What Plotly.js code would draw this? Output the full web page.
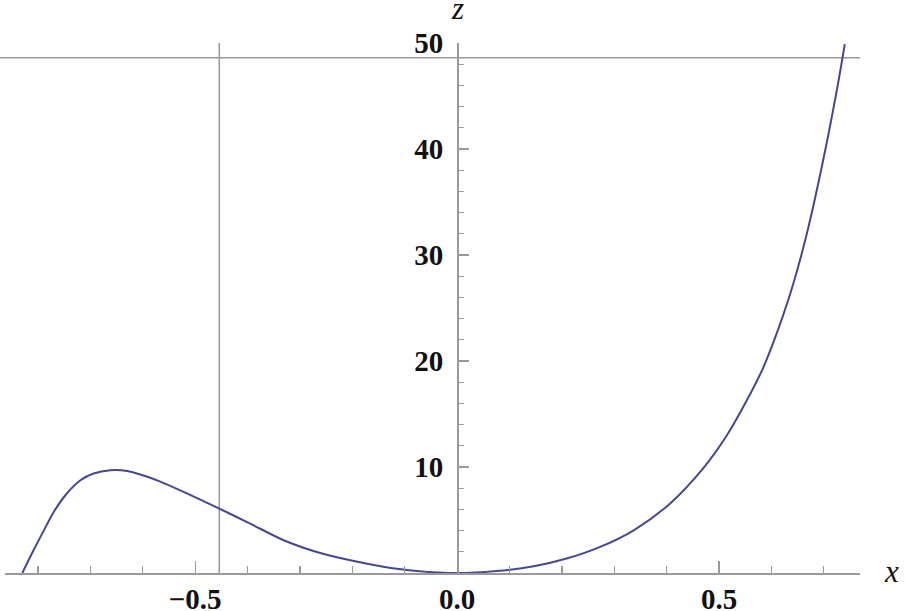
<!DOCTYPE html>
<html>
<head>
<meta charset="utf-8">
<script src="https://cdn.plot.ly/plotly-3.0.1.min.js"></script>
<style>
  html, body { margin: 0; padding: 0; background: #fff; }
  #chart { width: 905px; height: 611px; }
</style>
</head>
<body>
<div id="chart"></div>
<script>
// curve values
const xs = [-0.830, -0.809, -0.789, -0.770, -0.745, -0.719, -0.694, -0.662, -0.630,
            -0.600, -0.570, -0.522, -0.454, -0.395, -0.331, -0.268, -0.204, -0.141,
            -0.077, 0.000, 0.076, 0.146, 0.209, 0.273, 0.337, 0.404, 0.470,
            0.515, 0.553, 0.585, 0.610, 0.632, 0.651, 0.667, 0.683, 0.706, 0.725, 0.740];
const zs = [0.00, 2.10, 4.00, 5.76, 7.50, 8.75, 9.39, 9.70, 9.63,
            9.22, 8.69, 7.65, 6.08, 4.66, 3.09, 1.98, 1.20, 0.60,
            0.19, 0.00, 0.19, 0.63, 1.36, 2.46, 4.03, 6.45, 9.90,
            13.0, 16.3, 19.45, 22.6, 25.75, 28.9, 31.9, 35.3, 40.7, 45.6, 49.9];

// reference lines
const guideX = [-0.454];
const guideZ = [48.6];

const xTicks = [-0.5, 0.0, 0.5];
const xTickText = ['\u22120.5', '0.0', '0.5'];
const zTicks = [10, 20, 30, 40, 50];

const xRange = [-0.863, 0.769];
const zRange = [0, 50];

const axisGray = '#9a9a9a';
const labelFont = { family: 'Liberation Serif, Times New Roman, serif', size: 29, color: '#111', weight: 'bold' };
const titleFont = { family: 'Liberation Serif, Times New Roman, serif', size: 31, color: '#111', style: 'italic' };

const curve = {
    x: xs,
    y: zs,
    type: 'scatter',
    mode: 'lines',
    line: { color: '#45459a', width: 2, shape: 'spline', smoothing: 0.8 },
    cliponaxis: false,
    hoverinfo: 'skip'
};

const shapes = [];
guideX.forEach(v => shapes.push({
    type: 'line', layer: 'below', xref: 'x', yref: 'y',
    x0: v, x1: v, y0: zRange[0], y1: zRange[1],
    line: { color: axisGray, width: 1.5 }
}));
guideZ.forEach(v => shapes.push({
    type: 'line', layer: 'below', xref: 'paper', yref: 'y',
    x0: -0.006, x1: 1, y0: v, y1: v,
    line: { color: axisGray, width: 1.5 }
}));

const layout = {
    width: 905,
    height: 611,
    margin: { l: 5, r: 45, t: 43, b: 38 },
    paper_bgcolor: '#fff',
    plot_bgcolor: '#fff',
    showlegend: false,
    xaxis: {
        range: xRange,
        showgrid: false,
        zeroline: false,
        showline: true,
        linecolor: axisGray,
        linewidth: 1.5,
        ticks: 'inside',
        ticklen: 12,
        tickwidth: 1.2,
        tickcolor: axisGray,
        tickvals: xTicks,
        ticktext: xTickText,
        tickfont: labelFont,
        ticklabelstandoff: 0,
        minor: { dtick: 0.1, tick0: 0, ticks: 'inside', ticklen: 7, tickwidth: 1.2, tickcolor: axisGray, showgrid: false },
        fixedrange: true
    },
    yaxis: {
        range: zRange,
        anchor: 'free',
        position: (0 - xRange[0]) / (xRange[1] - xRange[0]),
        side: 'left',
        showgrid: false,
        zeroline: false,
        showline: true,
        linecolor: axisGray,
        linewidth: 1.5,
        ticks: 'inside',
        ticklen: 10,
        tickwidth: 1.2,
        tickcolor: axisGray,
        tickvals: zTicks,
        tickfont: labelFont,
        ticklabelstandoff: 8,
        minor: { dtick: 2, tick0: 0, ticks: 'inside', ticklen: 5, tickwidth: 1.2, tickcolor: axisGray, showgrid: false },
        fixedrange: true
    },
    shapes: shapes,
    annotations: [
        { text: 'z', xref: 'x', yref: 'paper', x: 0, y: 1, yshift: 35, xanchor: 'center', yanchor: 'middle',
          showarrow: false, font: titleFont },
        { text: 'x', xref: 'paper', yref: 'y', x: 1, y: 0, xshift: 31, yshift: 2, xanchor: 'center', yanchor: 'middle',
          showarrow: false, font: titleFont }
    ]
};

Plotly.newPlot('chart', [curve], layout, { displayModeBar: false, staticPlot: true });
</script>
</body>
</html>
